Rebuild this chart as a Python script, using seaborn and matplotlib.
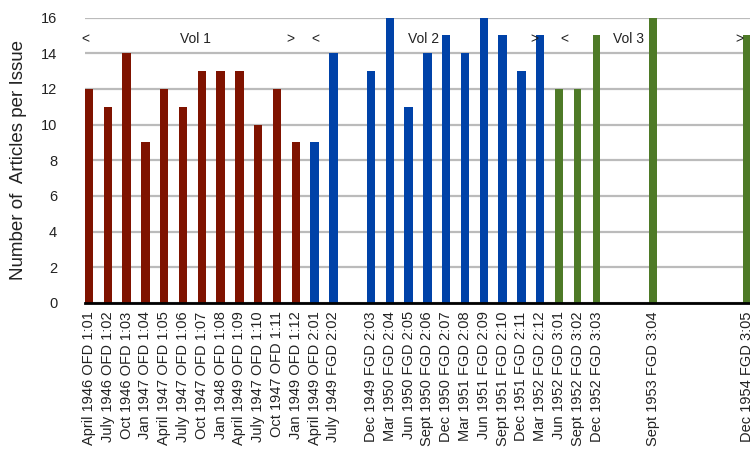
import numpy as np
import pandas as pd
import matplotlib
matplotlib.use("Agg")
import matplotlib.pyplot as plt
import seaborn as sns

# ---- data ----
issue_labels = [
    "April 1946 OFD 1:01", "July 1946 OFD 1:02", "Oct 1946 OFD 1:03", "Jan 1947 OFD 1:04",
    "April 1947 OFD 1:05", "July 1947 OFD 1:06", "Oct 1947 OFD 1:07", "Jan 1948 OFD 1:08",
    "April 1949 OFD 1:09", "July 1947 OFD 1:10", "Oct 1947 OFD 1:11", "Jan 1949 OFD 1:12",
    "April 1949 OFD 2:01", "July 1949 FGD 2:02", "",
    "Dec 1949 FGD 2:03", "Mar 1950 FGD 2:04", "Jun 1950 FGD 2:05", "Sept 1950 FGD 2:06",
    "Dec 1950 FGD 2:07", "Mar 1951 FGD 2:08", "Jun 1951 FGD 2:09", "Sept 1951 FGD 2:10",
    "Dec 1951 FGD 2:11", "Mar 1952 FGD 2:12",
    "Jun 1952 FGD 3:01", "Sept 1952 FGD 3:02", "Dec 1952 FGD 3:03", "", "",
    "Sept 1953 FGD 3:04", "", "", "", "", "Dec 1954 FGD 3:05",
]
articles = [
    12, 11, 14, 9, 12, 11, 13, 13, 13, 10, 12, 9,
    9, 14, None,
    13, 16, 11, 14, 15, 14, 16, 15, 13, 15,
    12, 12, 15, None, None,
    16, None, None, None, None, 15,
]
volumes = ["Vol 1"] * 12 + ["Vol 2"] * 13 + ["Vol 3"] * 11
vol_colors = {"Vol 1": "#7F1300", "Vol 2": "#0042A8", "Vol 3": "#4E7A27"}

keys = [f"slot{i:02d}" for i in range(len(issue_labels))]
df = pd.DataFrame({"key": keys, "label": issue_labels,
                   "articles": articles, "vol": volumes})
df_bars = df.dropna(subset=["articles"])

sns.set_theme(style="white")
plt.rcParams["font.family"] = ["Liberation Sans", "DejaVu Sans"]

fig = plt.figure(figsize=(7.5, 4.53), dpi=100)
ax = fig.add_axes([85 / 750, 150 / 453, 1 - 85 / 750, (303 - 17.5) / 453])

sns.barplot(data=df_bars[df_bars.vol != "Vol 3"], x="key", y="articles", hue="vol",
            order=keys, palette=vol_colors, dodge=False, width=0.45,
            saturation=1, legend=False, ax=ax, zorder=3, linewidth=0)
sns.barplot(data=df_bars[df_bars.vol == "Vol 3"], x="key", y="articles", hue="vol",
            order=keys, palette=vol_colors, dodge=False, width=0.38,
            saturation=1, legend=False, ax=ax, zorder=3, linewidth=0)

ax.set_ylim(0, 16)
ax.set_xlim(-0.213, 35.16)
ax.set_yticks(np.arange(0, 17, 2))
ax.yaxis.grid(True, color="#bbbbbb", lw=1.6)
ax.set_axisbelow(True)
for s in ["left", "right", "top"]:
    ax.spines[s].set_visible(False)
ax.spines["bottom"].set_color("black")
ax.spines["bottom"].set_linewidth(2)
ax.spines["bottom"].set_zorder(5)

ax.set_xticks(range(len(keys)))
ax.set_xticklabels(issue_labels, rotation=90, ha="center", va="top", fontsize=10.5,
                   color="#222222")
ax.tick_params(axis="x", length=0, pad=6)
ax.tick_params(axis="y", length=0, pad=20, labelsize=10.5, labelcolor="#222222")
ax.set_xlabel("")
ax.set_ylabel("Number of  Articles per Issue", fontsize=13.5, color="#222222", labelpad=10)

# volume annotations
ann = [(-0.2, "<"), (5.64, "Vol 1"), (10.7, ">"), (12.05, "<"), (17.8, "Vol 2"),
       (23.7, ">"), (25.3, "<"), (28.7, "Vol 3"), (34.6, ">")]
for xp, t in ann:
    ax.text(xp, 14.8, t, ha="center", va="center", fontsize=10, color="#222222", zorder=6)

fig.savefig("out.png", dpi=100)
